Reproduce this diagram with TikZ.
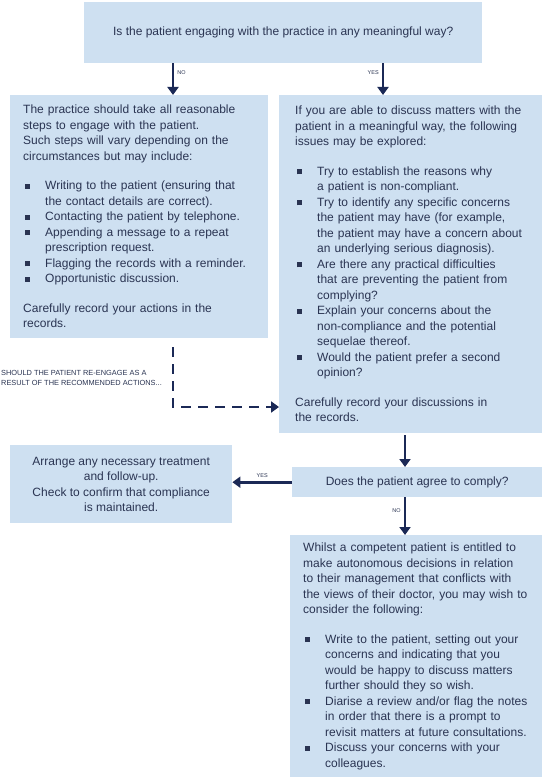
\documentclass[tikz,border=0pt]{standalone}
\usepackage{fontspec}
\setmainfont{Liberation Sans}
\usepackage{xcolor}
\usetikzlibrary{arrows.meta,positioning}
\definecolor{boxblue}{RGB}{206,224,241}
\definecolor{ink}{RGB}{42,52,82}
\definecolor{navy}{RGB}{27,41,86}
\setlength{\parindent}{0pt}
\newcommand{\bsq}{\rule[1pt]{5pt}{5pt}}
\newcommand{\itm}[1]{\par\hangindent=22pt\hangafter=1\noindent\makebox[22pt][l]{\hspace{2pt}\bsq}{\let\\\newline #1}\par}
\newcommand{\gap}{\par\vspace{14pt}}

\begin{document}
\begin{tikzpicture}[x=1pt,y=-1pt,
 box/.style={fill=boxblue,text=ink,inner ysep=0pt,anchor=north west,font=\fontsize{12}{15.5}\selectfont},
 arr/.style={draw=navy,line width=2.6pt,-{Triangle[width=11pt,length=8pt]}},
 dasharr/.style={arr,dash pattern=on 10pt off 7pt},
 tag/.style={text=ink,font=\fontsize{5.5}{6}\selectfont,inner sep=3pt}]
\useasboundingbox (0,0) rectangle (550,783);
\node[box,minimum width=398pt,minimum height=61pt,align=center] (qEng) at (84,2)
 {Is the patient engaging with the practice in any meaningful way?};
\node[box,minimum height=243pt,text width=232pt,inner xsep=13pt,align=left] (steps) at (10,95)
 {The practice should take all reasonable\\steps to engage with the patient.\\Such steps will vary depending on the\\circumstances but may include:
 \gap
 \itm{Writing to the patient (ensuring that\\the contact details are correct).}
 \itm{Contacting the patient by telephone.}
 \itm{Appending a message to a repeat\\prescription request.}
 \itm{Flagging the records with a reminder.}
 \itm{Opportunistic discussion.}
 \gap
 Carefully record your actions in the\\records.};
\node[box,minimum height=338pt,text width=231pt,inner xsep=16pt,align=left] (explore) at (279,95)
 {If you are able to discuss matters with the\\patient in a meaningful way, the following\\issues may be explored:
 \gap
 \itm{Try to establish the reasons why\\a patient is non-compliant.}
 \itm{Try to identify any specific concerns\\the patient may have (for example,\\the patient may have a concern about\\an underlying serious diagnosis).}
 \itm{Are there any practical difficulties\\that are preventing the patient from\\complying?}
 \itm{Explain your concerns about the\\non-compliance and the potential\\sequelae thereof.}
 \itm{Would the patient prefer a second\\opinion?}
 \gap
 Carefully record your discussions in\\the records.};
\node[box,minimum width=250pt,minimum height=30pt,align=center] (qAgree) at (292,467)
 {Does the patient agree to comply?};
\node[box,minimum width=222pt,minimum height=78pt,align=center] (treat) at (10,445)
 {Arrange any necessary treatment\\and follow-up.\\Check to confirm that compliance\\is maintained.};
\node[box,minimum height=242pt,text width=226pt,inner xsep=13pt,align=left] (autonomy) at (290,535)
 {Whilst a competent patient is entitled to\\make autonomous decisions in relation\\to their management that conflicts with\\the views of their doctor, you may wish to\\consider the following:
 \gap
 \itm{Write to the patient, setting out your\\concerns and indicating that you\\would be happy to discuss matters\\further should they so wish.}
 \itm{Diarise a review and/or flag the notes\\in order that there is a prompt to\\revisit matters at future consultations.}
 \itm{Discuss your concerns with your\\colleagues.}};
\node[tag,font=\fontsize{7.4}{10}\selectfont,anchor=west,align=left,inner sep=0pt] (reLbl) at (1,378)
 {SHOULD THE PATIENT RE-ENGAGE AS A\\RESULT OF THE RECOMMENDED ACTIONS...};
% connectors
\coordinate (xNo) at (173,0);
\coordinate (xYes) at (383,0);
\coordinate (xMid) at (405,0);
\coordinate (yRe) at (0,407);
\draw[arr] (qEng.south -| xNo) -- node[tag,pos=.3,right]{NO} (steps.north -| xNo);
\draw[arr] (qEng.south -| xYes) -- node[tag,pos=.3,left]{YES} (explore.north -| xYes);
\draw[dasharr,shorten <=9pt] (steps.south -| xNo) |- (explore.west |- yRe);
\draw[arr,shorten <=2pt] (explore.south -| xMid) -- (qAgree.north -| xMid);
\draw[arr] (qAgree.west) -- node[tag,above]{YES} (treat.east |- qAgree.west);
\draw[arr] (qAgree.south -| xMid) -- node[tag,pos=.35,left]{NO} (autonomy.north -| xMid);
\end{tikzpicture}
\end{document}
